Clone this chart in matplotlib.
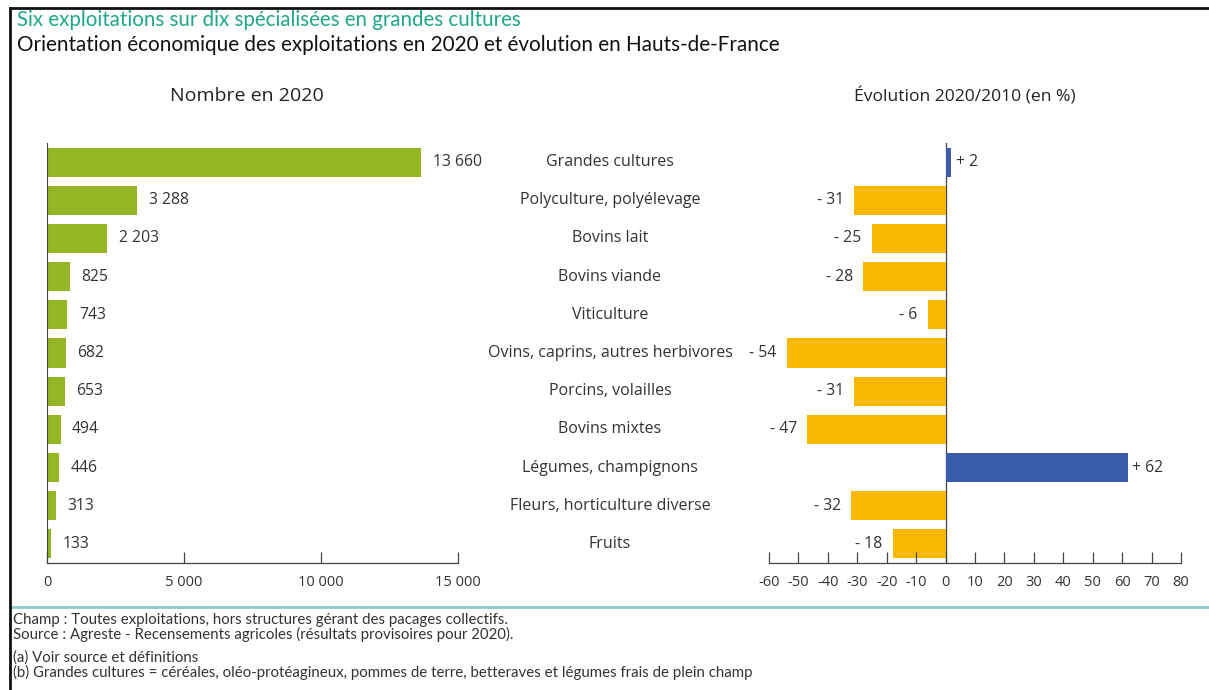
import matplotlib
matplotlib.use("Agg")
import matplotlib.pyplot as plt
from matplotlib.lines import Line2D

categories = ["Grandes cultures", "Polyculture, polyélevage", "Bovins lait", "Bovins viande",
              "Viticulture", "Ovins, caprins, autres herbivores", "Porcins, volailles",
              "Bovins mixtes", "Légumes, champignons", "Fleurs, horticulture diverse", "Fruits"]
nombre_2020 = [13660, 3288, 2203, 825, 743, 682, 653, 494, 446, 313, 133]
evolution = [2, -31, -25, -28, -6, -54, -31, -47, 62, -32, -18]
left_ticks = [0, 5000, 10000, 15000]
right_ticks = list(range(-60, 81, 10))

GREEN = "#94b524"
YELLOW = "#f8b800"
BLUE = "#3b5ca8"
TEAL = "#1fa68b"
TXT = "#333333"
FONT = ["Open Sans", "DejaVu Sans"]
NARROW = ["Lato", "DejaVu Sans"]

plt.rcParams["font.family"] = FONT
plt.rcParams["axes.unicode_minus"] = False

def fmt(v):
    return f"{v:,}".replace(",", " ")

fig = plt.figure(figsize=(12.09, 6.9), dpi=100)
W, H = 1209, 690

def box(x0, x1, y0, y1):
    return [x0 / W, 1 - y1 / H, (x1 - x0) / W, (y1 - y0) / H]

ax1 = fig.add_axes(box(47, 458, 143, 563))
ax2 = fig.add_axes(box(769, 1181, 143, 563))
pos = list(range(len(categories)))

ax1.barh(pos, nombre_2020, height=0.76, color=GREEN)
for y, v in zip(pos, nombre_2020):
    ax1.text(v + 420, y, fmt(v), va="center", ha="left", fontsize=11.3, color=TXT)
ax1.set_xlim(0, 15000)
ax1.set_xticks(left_ticks)
ax1.set_xticklabels([fmt(t) for t in left_ticks])

colors = [BLUE if v > 0 else YELLOW for v in evolution]
ax2.barh(pos, evolution, height=0.76, color=colors)
for y, v in zip(pos, evolution):
    if v > 0:
        ax2.text(v + 1.5, y, f"+ {v}", va="center", ha="left", fontsize=11.3, color=TXT)
    else:
        ax2.text(v - 3.5, y, f"- {abs(v)}", va="center", ha="right", fontsize=11.3, color=TXT)
ax2.set_xlim(-60, 80)
ax2.set_xticks(right_ticks)
ax2.axvline(0, color="#444444", lw=0.9, zorder=0)

for ax in (ax1, ax2):
    ax.set_ylim(len(categories) - 0.5, -0.5)
    ax.set_yticks([])
    for s in ("top", "right"):
        ax.spines[s].set_visible(False)
    ax.spines["left"].set_visible(ax is ax1)
    ax.spines["left"].set_color("#444444")
    ax.spines["bottom"].set_color("#444444")
    ax.spines["bottom"].set_linewidth(0.9)
    ax.tick_params(axis="x", direction="in", length=8, width=0.9, color="#444444",
                   labelsize=10.5, labelcolor=TXT, pad=9)

for y, c in zip(pos, categories):
    yy = ax1.transData.transform((0, y))[1]
    fig.text(610 / W, yy / H, c, ha="center", va="center", fontsize=11.5, color=TXT)

fig.text(247 / W, 1 - 96 / H, "Nombre en 2020", ha="center", va="center", fontsize=14, color="#222222")
fig.text(965 / W, 1 - 96 / H, "Évolution 2020/2010 (en %)", ha="center", va="center",
         fontsize=12.6, color="#222222")

fig.text(17 / W, 1 - 20 / H, "Six exploitations sur dix spécialisées en grandes cultures",
         ha="left", va="center", fontsize=14.8, color=TEAL, family=["Lato", "DejaVu Sans"])
fig.text(17 / W, 1 - 45 / H, "Orientation économique des exploitations en 2020 et évolution en Hauts-de-France",
         ha="left", va="center", fontsize=14.9, color="#111111", family=["Lato", "DejaVu Sans"])

notes = [(620, "Champ : Toutes exploitations, hors structures gérant des pacages collectifs."),
         (634, "Source : Agreste - Recensements agricoles (résultats provisoires pour 2020)."),
         (658, "(a) Voir source et définitions"),
         (672, "(b) Grandes cultures = céréales, oléo-protéagineux, pommes de terre, betteraves et légumes frais de plein champ")]
for y, t in notes:
    fig.text(13 / W, 1 - y / H, t, ha="left", va="center", fontsize=10.8, color="#333333", family=NARROW)

fig.add_artist(Line2D([10 / W, 1], [1 - 607 / H] * 2, color="#8fcaca", lw=2))
fig.add_artist(Line2D([10 / W, 1], [1 - 8 / H] * 2, color="#111111", lw=2))
fig.add_artist(Line2D([10 / W, 10 / W], [0, 1 - 8 / H], color="#111111", lw=2))

fig.savefig("out.png", dpi=100)
